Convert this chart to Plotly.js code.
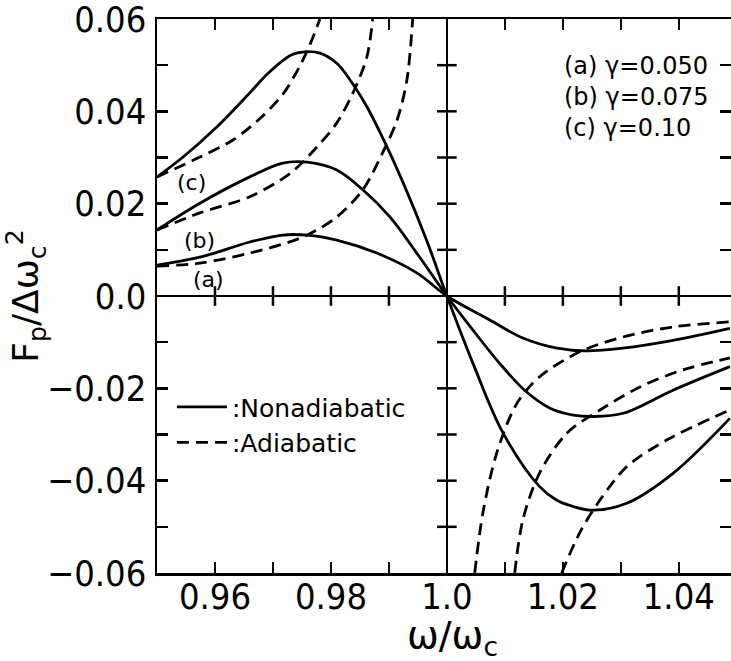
<!DOCTYPE html>
<html>
<head>
<meta charset="utf-8">
<script src="https://cdn.plot.ly/plotly-3.0.1.min.js"></script>
<style>html,body{margin:0;padding:0;background:#fff;overflow:hidden}#chart{width:731px;height:661px}</style>
</head>
<body>
<div id="chart"></div>
<script>
// Nonadiabatic (solid) curves
var solidA_x = [0.95, 0.9574, 0.966, 0.9717, 0.9759, 0.981, 0.9879, 0.9948, 1.0, 1.0074, 1.0131, 1.019, 1.0241, 1.0303, 1.039, 1.0488];
var solidA_y = [0.0067, 0.0084, 0.0117, 0.0132, 0.0132, 0.0121, 0.0093, 0.005, 0, -0.0052, -0.0091, -0.0113, -0.0119, -0.0113, -0.0096, -0.007];
var solidB_x = [0.95, 0.9574, 0.966, 0.9717, 0.9759, 0.981, 0.9855, 0.9902, 0.9948, 1.0, 1.0045, 1.0091, 1.0134, 1.0178, 1.0218, 1.0252, 1.0304, 1.039, 1.0488];
var solidB_y = [0.0143, 0.0201, 0.0258, 0.0288, 0.029, 0.0273, 0.023, 0.0171, 0.0093, 0, -0.0074, -0.0146, -0.0204, -0.0243, -0.0258, -0.0261, -0.0254, -0.0204, -0.0153];
var solidC_x = [0.95, 0.9545, 0.9603, 0.966, 0.9689, 0.9718, 0.9735, 0.9755, 0.9781, 0.981, 0.9833, 0.9862, 0.9891, 0.9925, 0.9965, 1.0, 1.0045, 1.0097, 1.016, 1.0189, 1.0218, 1.0252, 1.031, 1.039, 1.0488];
var solidC_y = [0.0258, 0.0301, 0.0366, 0.044, 0.0479, 0.0511, 0.0524, 0.0529, 0.0526, 0.0504, 0.0468, 0.041, 0.0338, 0.0244, 0.0121, 0, -0.0146, -0.0297, -0.0413, -0.0442, -0.0456, -0.0464, -0.0449, -0.0384, -0.0265];

// Adiabatic (dashed) curves: branch below 1.0, gap, branch above 1.0
var dashA_x = [0.95, 0.9574, 0.966, 0.9752, 0.981, 0.9855, 0.9889, 0.9914, 0.9931, 0.9941, null, 1.0048, 1.0062, 1.0086, 1.0121, 1.016, 1.0229, 1.0303, 1.039, 1.0488];
var dashA_y = [0.0065, 0.0071, 0.0093, 0.0128, 0.0171, 0.023, 0.031, 0.0381, 0.0468, 0.06, null, -0.06, -0.047, -0.034, -0.0232, -0.0175, -0.0121, -0.0089, -0.0067, -0.0056];
var dashB_x = [0.95, 0.9574, 0.966, 0.973, 0.9776, 0.981, 0.9838, 0.9862, 0.9872, null, 1.0117, 1.0131, 1.016, 1.0207, 1.0264, 1.0333, 1.0407, 1.0488];
var dashB_y = [0.0143, 0.018, 0.0215, 0.0266, 0.0323, 0.0375, 0.044, 0.0518, 0.06, null, -0.06, -0.0485, -0.0383, -0.0297, -0.0247, -0.0197, -0.016, -0.0134];
var dashC_x = [0.95, 0.9574, 0.9631, 0.9678, 0.9717, 0.9745, 0.9764, 0.9781, null, 1.0198, 1.0229, 1.0264, 1.031, 1.0379, 1.0488];
var dashC_y = [0.0258, 0.0301, 0.0338, 0.0385, 0.0437, 0.0495, 0.0545, 0.06, null, -0.06, -0.0513, -0.0442, -0.037, -0.0312, -0.0247];

// Tick labels
var xTickVals = [0.96, 0.98, 1.0, 1.02, 1.04];
var xTickText = ['0.96', '0.98', '1.0', '1.02', '1.04'];
var xMinorVals = [0.97, 0.99, 1.01, 1.03];
var yTickVals = [-0.06, -0.04, -0.02, 0, 0.02, 0.04, 0.06];
var yTickText = ['\u22120.06', '\u22120.04', '\u22120.02', '0.0', '0.02', '0.04', '0.06'];
var yMinorVals = [-0.05, -0.03, -0.01, 0.01, 0.03, 0.05];
// tick crosses on the inner axes (y = 0 and x = 1.0)
var crossXVals = [0.96, 0.97, 0.98, 0.99, 1.01, 1.02, 1.03, 1.04];
var crossYVals = [-0.05, -0.04, -0.03, -0.02, -0.01, 0.01, 0.02, 0.03, 0.04, 0.05];
var innerAxisX = 1.0;
var innerAxisY = 0;

var gammaLabels = ['(a) \u03b3=0.050', '(b) \u03b3=0.075', '(c) \u03b3=0.10'];
var curveLabels = ['(a)', '(b)', '(c)'];
var curveLabelX = [0.9588, 0.9574, 0.956];
var curveLabelY = [0.0035, 0.0121, 0.0245];

var FONT = 'DejaVu Sans, Verdana, sans-serif';
var TICKFONT = 'Liberation Sans Narrow, Arial Narrow, DejaVu Sans Condensed, sans-serif';
var XR = [0.95, 1.049];
var YR = [-0.06, 0.06];
var TICKCOL = '#000';

function solid(x, y, name, show) {
  return {x: x, y: y, mode: 'lines', type: 'scatter', name: name, showlegend: show,
    line: {color: '#000', width: 2.8, shape: 'spline', smoothing: 1}, hoverinfo: 'skip'};
}
function dashed(x, y, name, show) {
  return {x: x, y: y, mode: 'lines', type: 'scatter', name: name, showlegend: show, connectgaps: false,
    line: {color: '#000', width: 2.8, dash: '12px,7px', shape: 'spline', smoothing: 0.9}, hoverinfo: 'skip'};
}
function ticksTrace(x, y, sym) {
  return {x: x, y: y, mode: 'markers', type: 'scatter', showlegend: false, hoverinfo: 'skip', cliponaxis: false,
    marker: {symbol: sym, size: 14, color: TICKCOL, line: {width: 2.5, color: TICKCOL}}};
}

var data = [
  solid(solidA_x, solidA_y, ':Nonadiabatic', true),
  solid(solidB_x, solidB_y, ':Nonadiabatic', false),
  solid(solidC_x, solidC_y, ':Nonadiabatic', false),
  dashed(dashA_x, dashA_y, ':Adiabatic', true),
  dashed(dashB_x, dashB_y, ':Adiabatic', false),
  dashed(dashC_x, dashC_y, ':Adiabatic', false),
  ticksTrace(crossXVals, crossXVals.map(function () { return innerAxisY; }), 'line-ns'),
  ticksTrace(crossYVals.map(function () { return innerAxisX; }), crossYVals, 'line-ew'),
  // invisible carrier so the overlay axis drawing the x = 1.0 line exists
  {x: solidA_x, y: solidA_y, xaxis: 'x', yaxis: 'y2', type: 'scatter', mode: 'lines', opacity: 0,
    line: {width: 0, color: 'rgba(0,0,0,0)'}, showlegend: false, hoverinfo: 'skip'}
];

var oneFrac = (innerAxisX - XR[0]) / (XR[1] - XR[0]);

var annotations = [{
  xref: 'paper', yref: 'paper', x: 0.7056, y: 0.859, xanchor: 'left', yanchor: 'middle', align: 'left',
  text: gammaLabels.join('<br>'), showarrow: false, font: {size: 24, color: '#000', family: FONT}
}, {
  xref: 'paper', yref: 'paper', x: 0.514, y: -0.117, xanchor: 'center', yanchor: 'middle',
  text: '\u03c9/\u03c9<sub>c</sub>', showarrow: false, font: {size: 38, color: '#000', family: FONT}
}];
for (var i = 0; i < curveLabels.length; i++) {
  annotations.push({x: curveLabelX[i], y: curveLabelY[i], xref: 'x', yref: 'y', text: curveLabels[i],
    showarrow: false, font: {size: 22, color: '#000', family: FONT}});
}

var layout = {
  width: 731, height: 661,
  margin: {l: 157, r: 0, t: 19, b: 88},
  paper_bgcolor: '#fff', plot_bgcolor: '#fff',
  font: {family: FONT, color: '#000'},
  showlegend: true,
  legend: {x: 0.026, y: 0.341, xanchor: 'left', yanchor: 'top', bgcolor: 'rgba(0,0,0,0)', itemwidth: 50,
    font: {size: 25, color: '#000', family: FONT}, tracegroupgap: 0},
  xaxis: {
    type: 'linear', range: XR, tickmode: 'array', tickvals: xTickVals, ticktext: xTickText,
    ticks: 'inside', ticklen: 11, tickwidth: 2.5, tickcolor: TICKCOL,
    minor: {tickmode: 'array', tickvals: xMinorVals, ticks: 'inside', ticklen: 11, tickwidth: 2.5, tickcolor: TICKCOL},
    showline: true, linewidth: 2.5, linecolor: '#000', mirror: 'ticks',
    showgrid: false, zeroline: false, tickfont: {size: 36, family: TICKFONT},
    ticklabelstandoff: -10, ticklabeloverflow: 'allow'
  },
  yaxis: {
    type: 'linear', range: YR, tickmode: 'array', tickvals: yTickVals, ticktext: yTickText,
    ticks: 'inside', ticklen: 11, tickwidth: 2.5, tickcolor: TICKCOL,
    minor: {tickmode: 'array', tickvals: yMinorVals, ticks: 'inside', ticklen: 11, tickwidth: 2.5, tickcolor: TICKCOL},
    showline: true, linewidth: 2.5, linecolor: '#000', mirror: 'ticks',
    showgrid: false, zeroline: true, zerolinewidth: 2.5, zerolinecolor: '#000',
    tickfont: {size: 36, family: TICKFONT}, ticklabelstandoff: 1, ticklabeloverflow: 'allow',
    title: {text: 'F<sub>p</sub>/\u0394\u03c9<sub>c</sub><sup>2</sup>', font: {size: 36, family: FONT}, standoff: 8}
  },
  yaxis2: {type: 'linear', overlaying: 'y', anchor: 'free', position: oneFrac, side: 'left', range: YR,
    ticks: '', showticklabels: false, showgrid: false, zeroline: false,
    showline: true, linewidth: 2.5, linecolor: '#000'},
  annotations: annotations
};

Plotly.newPlot('chart', data, layout, {displayModeBar: false, staticPlot: true});
</script>
</body>
</html>
